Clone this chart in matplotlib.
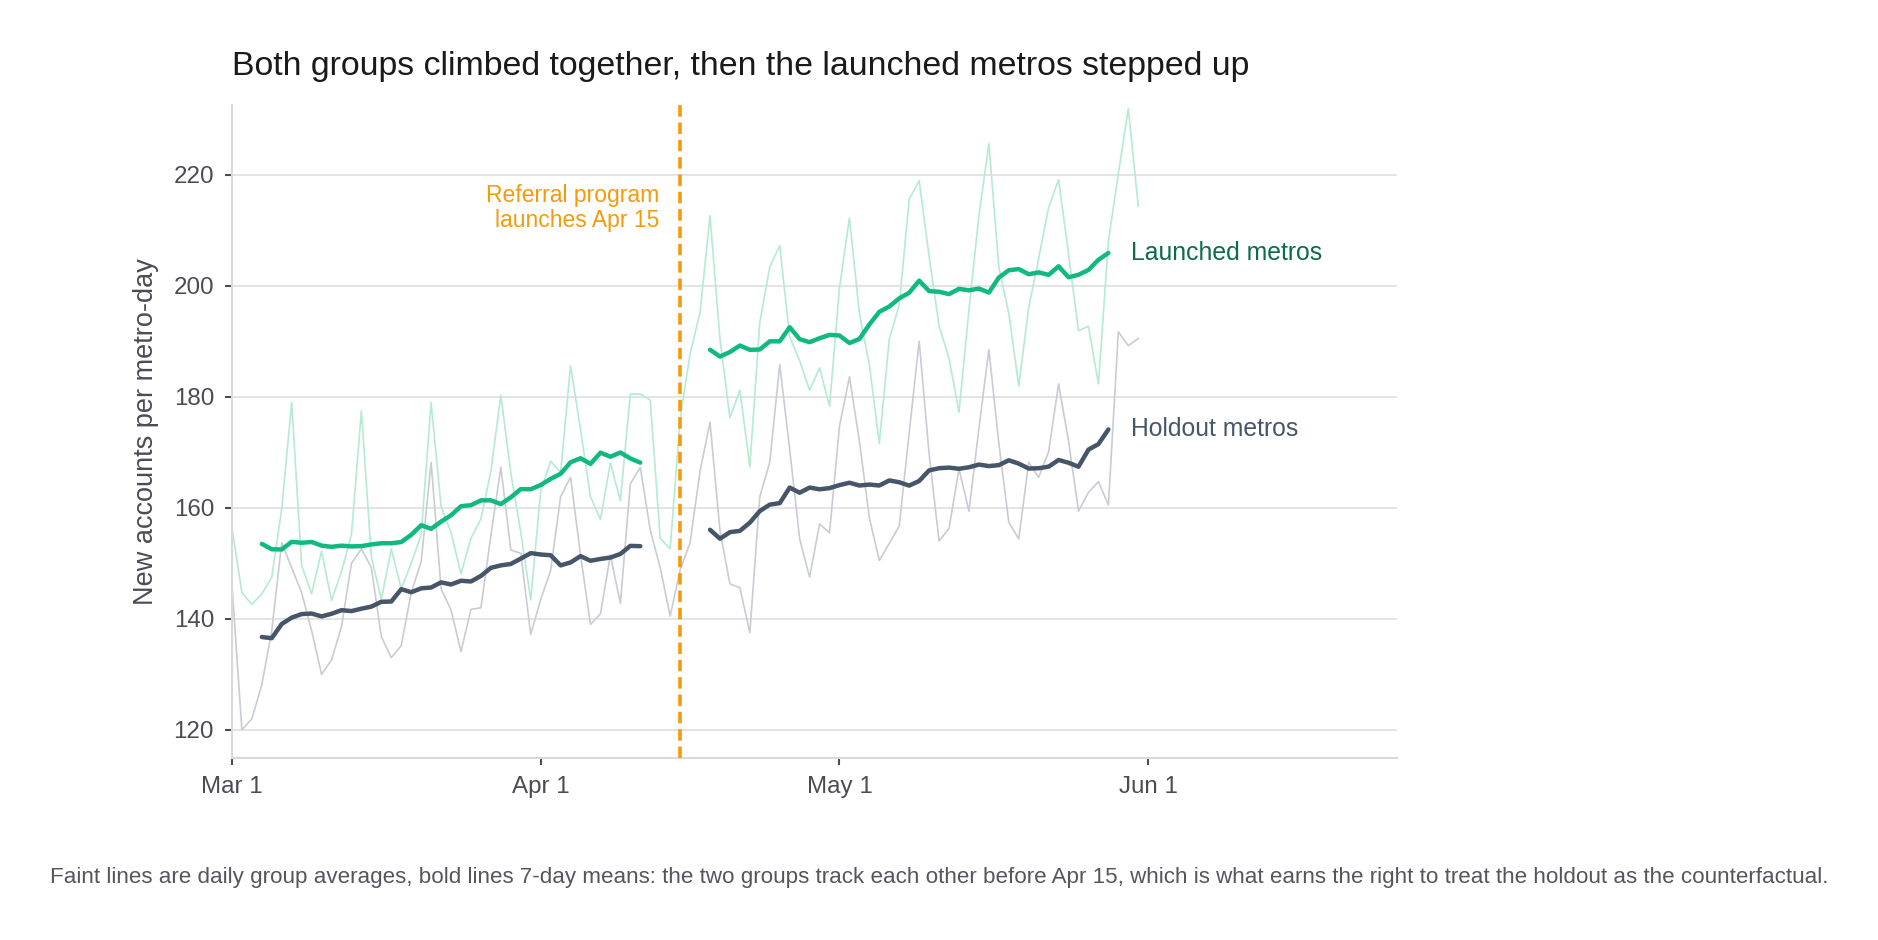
import numpy as np
import pandas as pd
import matplotlib
matplotlib.use('Agg')
import matplotlib.pyplot as plt
import matplotlib.dates as mdates

plt.rcParams['font.family'] = ['Liberation Sans', 'DejaVu Sans']

# daily group averages, Mar 1 .. Apr 14 (before launch)
launched_pre = [156.4, 144.7, 142.6, 144.5, 147.5, 159.8, 179.0, 149.6, 144.5, 152.2,
                143.3, 148.5, 155.2, 177.5, 151.1, 143.5, 152.6, 145.4, 150.0, 155.2,
                179.0, 160.2, 155.6, 148.1, 154.5, 158.0, 166.6, 180.3, 166.3, 155.6,
                143.4, 163.0, 168.4, 166.4, 185.6, 174.1, 162.0, 157.9, 168.1, 161.3,
                180.5, 180.5, 179.4, 154.5, 152.6]
holdout_pre = [146.2, 120.0, 122.0, 128.1, 137.9, 153.7, 149.2, 144.7, 137.9, 130.0,
               132.6, 138.6, 150.0, 152.6, 149.2, 136.8, 133.0, 135.2, 144.7, 150.3,
               168.2, 145.4, 141.6, 134.1, 141.7, 142.0, 155.0, 167.3, 152.4, 151.8,
               137.2, 143.5, 148.7, 162.0, 165.5, 151.5, 139.0, 140.9, 151.5, 142.8,
               164.3, 167.3, 156.0, 149.2, 140.5]
# Apr 15 .. May 31 (after launch)
launched_post = [176.0, 187.7, 195.2, 212.6, 190.4, 176.2, 181.2, 167.4, 193.4, 203.4,
                 207.2, 190.8, 186.5, 181.2, 185.2, 178.3, 199.6, 212.2, 195.0, 185.8,
                 171.6, 190.4, 196.5, 215.6, 218.9, 205.3, 192.8, 186.9, 177.2, 195.7,
                 212.6, 225.6, 203.4, 195.0, 181.9, 196.1, 204.9, 214.1, 219.1, 205.7,
                 191.9, 192.7, 182.3, 208.0, 220.2, 231.9, 214.3]
holdout_post = [148.8, 153.7, 166.6, 175.4, 155.9, 146.3, 145.6, 137.5, 162.0, 168.2,
                185.8, 170.5, 154.4, 147.5, 157.1, 155.5, 174.7, 183.6, 172.0, 158.2,
                150.5, 153.6, 156.7, 173.5, 190.0, 169.7, 154.0, 156.3, 167.0, 159.4,
                174.3, 188.5, 171.6, 157.4, 154.4, 168.2, 165.5, 170.1, 182.3, 172.0,
                159.4, 162.8, 164.7, 160.5, 191.7, 189.2, 190.5]

launch_date = pd.Timestamp('2024-04-15')
pre_days = pd.date_range('2024-03-01', periods=len(launched_pre), freq='D')
post_days = pd.date_range(launch_date, periods=len(launched_post), freq='D')

GREEN = '#10b981'
GREEN_FAINT = '#b5ead3'
GREEN_TEXT = '#0b6b4a'
SLATE = '#475569'
SLATE_FAINT = '#c9ccd3'
ORANGE = '#f59a0b'
GRID = '#e2e2e2'
TICK = '#4b4b55'

fig = plt.figure(figsize=(18.78, 9.40), dpi=100)
ax = fig.add_axes([0.1235, 0.194, 0.6205, 0.694])

all_days = pre_days.append(post_days)
ax.plot(all_days, launched_pre + launched_post, color=GREEN_FAINT, lw=1.2, zorder=2)
ax.plot(all_days, holdout_pre + holdout_post, color=SLATE_FAINT, lw=1.2, zorder=2)

# 7-day centred means, computed separately on each side of the launch
for days, vals, col in [(pre_days, launched_pre, GREEN), (post_days, launched_post, GREEN),
                        (pre_days, holdout_pre, SLATE), (post_days, holdout_post, SLATE)]:
    rm = pd.Series(vals, index=days).rolling(7, center=True).mean()
    ax.plot(rm.index, rm.values, color=col, lw=3.2, zorder=3, solid_capstyle='round')

ax.axvline(launch_date, color=ORANGE, lw=2.6, ls=(0, (3.2, 1.6)), zorder=4)
ax.annotate('Referral program\nlaunches Apr 15', xy=(launch_date, 214), xytext=(-15, 0),
            textcoords='offset points', ha='right', va='center', color=ORANGE,
            fontsize=16.5, linespacing=1.15)

end_l = pd.Series(launched_post, index=post_days).rolling(7, center=True).mean().dropna()
end_h = pd.Series(holdout_post, index=post_days).rolling(7, center=True).mean().dropna()
ax.annotate('Launched metros', xy=(end_l.index[-1], end_l.values[-1]), xytext=(16, 0),
            textcoords='offset points', va='center', color=GREEN_TEXT, fontsize=17.8)
ax.annotate('Holdout metros', xy=(end_h.index[-1], end_h.values[-1]), xytext=(16, 0),
            textcoords='offset points', va='center', color=SLATE, fontsize=17.8)

ax.set_xlim(pd.Timestamp('2024-03-01'), pd.Timestamp('2024-06-26'))
ax.set_ylim(115, 232.5)
ax.set_yticks([120, 140, 160, 180, 200, 220])
ax.set_xticks(pd.to_datetime(['2024-03-01', '2024-04-01', '2024-05-01', '2024-06-01']))
ax.xaxis.set_major_formatter(mdates.DateFormatter('%b %-d'))

ax.grid(axis='y', color=GRID, lw=1.3, zorder=0)
ax.set_axisbelow(True)
for s in ['top', 'right']:
    ax.spines[s].set_visible(False)
for s in ['left', 'bottom']:
    ax.spines[s].set_color('#d9d9dc')
    ax.spines[s].set_linewidth(1.5)
ax.tick_params(axis='both', colors=TICK, labelsize=17.4, length=5, width=1.5, pad=8)
ax.tick_params(axis='both', labelcolor=TICK)

ax.set_ylabel('New accounts per metro-day', fontsize=19.5, color=TICK, labelpad=10)
ax.set_title('Both groups climbed together, then the launched metros stepped up',
             loc='left', fontsize=24.4, color='#1a1a1a', pad=22)

fig.text(0.5, 0.066, 'Faint lines are daily group averages, bold lines 7-day means: the two groups '
         'track each other before Apr 15, which is what earns the right to treat the holdout '
         'as the counterfactual.', ha='center', va='center', fontsize=16.1, color='#55555e')

fig.savefig('out.png', dpi=100)
